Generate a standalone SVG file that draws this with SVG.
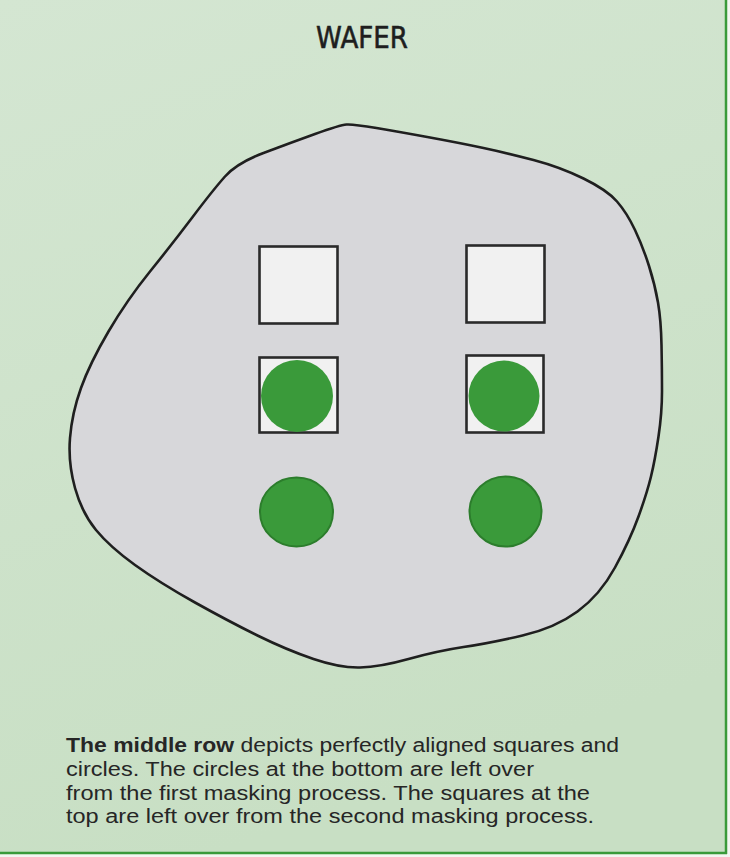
<svg xmlns="http://www.w3.org/2000/svg" width="730" height="857" viewBox="0 0 730 857">
  <defs>
    <linearGradient id="bg" x1="0" y1="0" x2="0.3" y2="1">
      <stop offset="0" stop-color="#d4e6d2"/>
      <stop offset="1" stop-color="#c8dfc4"/>
    </linearGradient>
    <style>
      .sq { fill: #f1f1f1; stroke: #2a2a2a; stroke-width: 2.6; }
      .dot { fill: #3a9a3a; }
      .dot2 { fill: #3a9a3a; stroke: #2c7d2c; stroke-width: 2; }
      .cap { font-family: "Liberation Sans", Arial, sans-serif; font-size: 20px; fill: #262626; }
    </style>
  </defs>
  <rect x="0" y="0" width="730" height="857" fill="#f3f6f1"/>
  <rect x="0" y="0" width="726" height="853" fill="url(#bg)"/>
  <line x1="726" y1="0" x2="726" y2="854" stroke="#3a9a3a" stroke-width="2.5"/>
  <line x1="0" y1="853" x2="727" y2="853" stroke="#3a9a3a" stroke-width="2.5"/>

  <text x="362" y="48" text-anchor="middle" font-family="'DejaVu Sans', sans-serif" font-size="30" fill="#1e1e1e" stroke="#1e1e1e" stroke-width="0.6" textLength="92" lengthAdjust="spacingAndGlyphs">WAFER</text>

  <g id="wafer">
    <path d="M315,134 Q340,125 346.5,124.5 Q353,124 376.5,128 Q400,132 430,137.5 Q460,143 483.5,148 Q507,153 533.5,160 Q560,167 583.5,178.5 Q607,190 617,201.5 Q627,213 635,230 Q643,247 649,266 Q655,285 658,302.5 Q661,320 661.5,345 Q662,370 662,391.5 Q662,413 658.5,436.5 Q655,460 651,476.5 Q647,493 638.5,516.5 Q630,540 615,567.5 Q600,595 577.5,611.5 Q555,628 522.5,635.5 Q490,643 463.5,647 Q437,651 408.5,659 Q380,667 360,667.5 Q340,668 313.5,659 Q287,650 258.5,636 Q230,622 195,602.5 Q160,583 135,565 Q110,547 96,530 Q82,513 75,488 Q68,463 70,438 Q72,413 81,388 Q90,363 108.5,331.5 Q127,300 150,271.5 Q173,243 193,216.5 Q213,190 225,176.5 Q237,163 263.5,153 Q290,143 315,134 Z" fill="#d7d7da" stroke="#1f1f1f" stroke-width="2.6" stroke-linejoin="round"/>
  </g>

  <g id="square-top-left"><rect class="sq" x="259.5" y="246.5" width="78" height="77"/></g>
  <g id="square-top-right"><rect class="sq" x="466.5" y="245.5" width="78" height="77"/></g>

  <g id="aligned-left">
    <rect class="sq" x="259.5" y="357.5" width="78" height="75"/>
    <circle class="dot" cx="297" cy="396" r="36"/>
  </g>
  <g id="aligned-right">
    <rect class="sq" x="466.5" y="355.5" width="77" height="77"/>
    <circle class="dot" cx="504" cy="396" r="35.5"/>
  </g>

  <g id="circle-bottom-left"><ellipse class="dot2" cx="296.5" cy="512" rx="36.5" ry="34.5"/></g>
  <g id="circle-bottom-right"><ellipse class="dot2" cx="505.5" cy="511.5" rx="36" ry="35"/></g>

  <g id="caption" class="cap">
    <text x="66" y="752" textLength="553" lengthAdjust="spacingAndGlyphs"><tspan font-weight="bold">The middle row</tspan> depicts perfectly aligned squares and</text>
    <text x="66" y="776" textLength="468" lengthAdjust="spacingAndGlyphs">circles. The circles at the bottom are left over</text>
    <text x="66" y="800" textLength="524" lengthAdjust="spacingAndGlyphs">from the first masking process. The squares at the</text>
    <text x="66" y="823" textLength="528" lengthAdjust="spacingAndGlyphs">top are left over from the second masking process.</text>
  </g>
</svg>
